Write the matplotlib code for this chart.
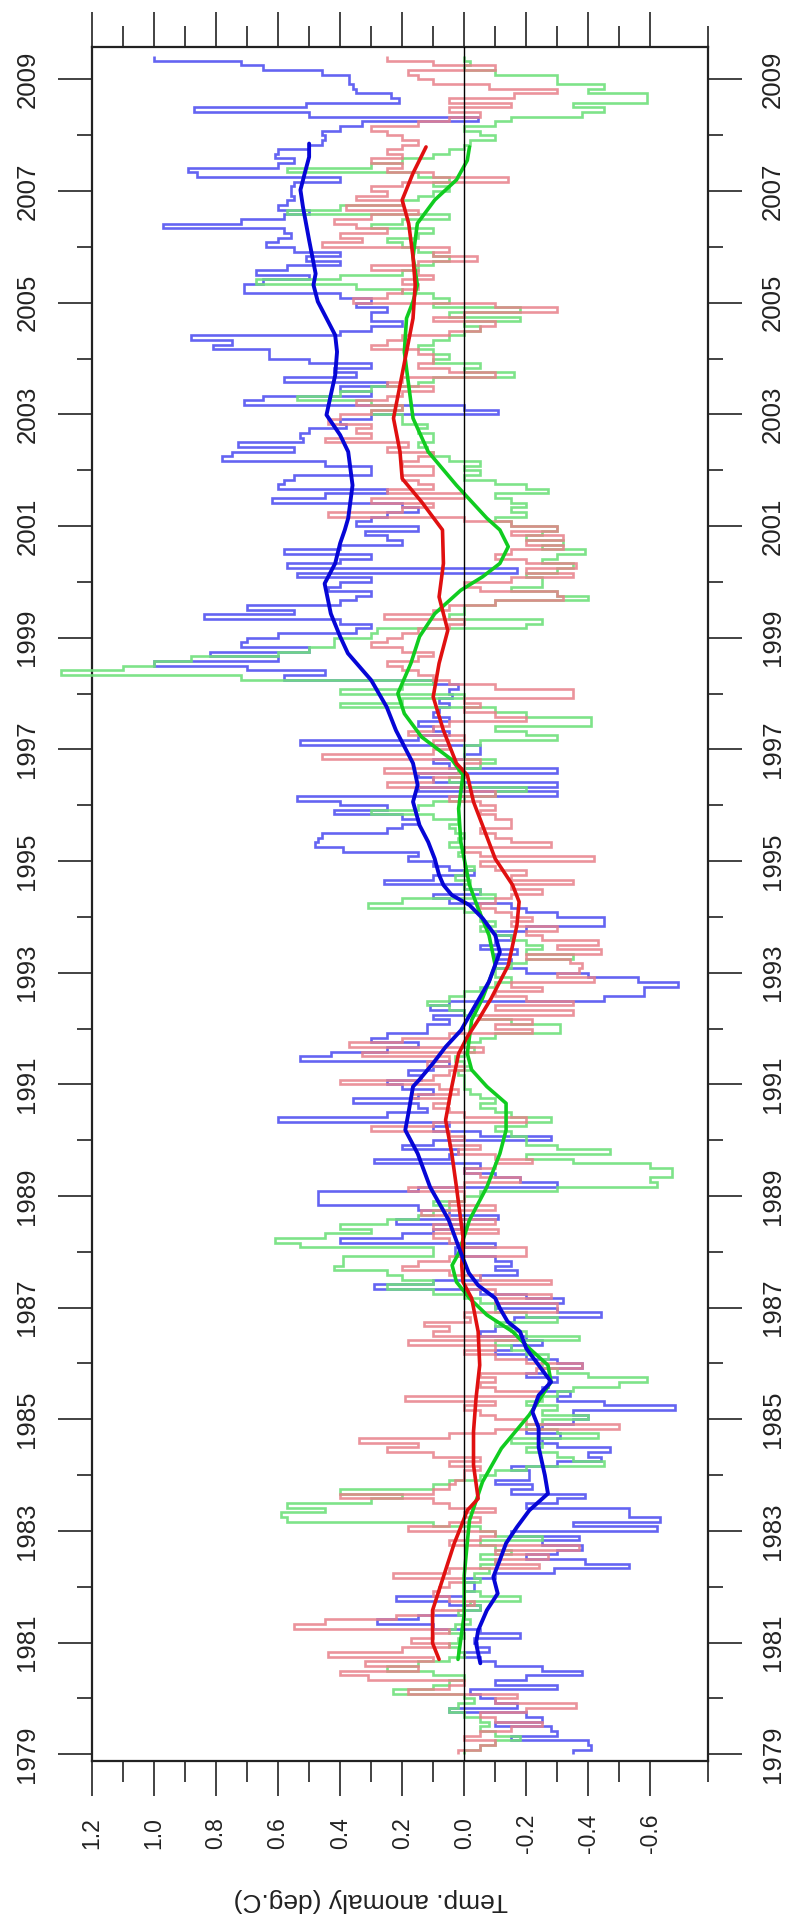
import numpy as np
import matplotlib
matplotlib.use("Agg")
import matplotlib.pyplot as plt
from matplotlib.ticker import FixedLocator
from matplotlib.transforms import blended_transform_factory

plt.rcParams['font.family'] = ['Liberation Sans', 'DejaVu Sans']
plt.rcParams['axes.unicode_minus'] = False

# ---------------- data ----------------
start_year = 1979  # monthly values from Jan 1979

blue_monthly = [
    -0.35, -0.41, -0.40, -0.15, -0.30, -0.28, -0.10, -0.25, -0.20, 0.05, -0.17, -0.10,   # 1979
    -0.05, -0.02, -0.30, -0.10, -0.20, -0.38, -0.25, -0.10, -0.05, 0.00, -0.08, -0.04,   # 1980
    -0.03, -0.18, -0.05, 0.10, 0.28, 0.15, 0.00, -0.05, 0.05, 0.22, 0.00, -0.03,         # 1981
    -0.03, 0.00, -0.10, -0.29, -0.53, -0.39, -0.20, -0.30, -0.38, -0.25, -0.37, -0.15,   # 1982
    -0.62, -0.35, -0.63, -0.53, -0.53, -0.20, -0.30, -0.39, -0.15, -0.22, -0.10, -0.21,  # 1983
    -0.21, -0.15, -0.30, -0.44, -0.40, -0.47, -0.30, -0.25, -0.31, -0.20, -0.25, -0.35,  # 1984
    -0.40, -0.35, -0.68, -0.45, -0.30, -0.34, -0.25, -0.27, -0.30, -0.20, -0.25, -0.38,  # 1985
    -0.30, -0.20, -0.10, -0.15, -0.25, -0.20, -0.05, -0.10, -0.15, -0.16, -0.44, -0.30,  # 1986
    -0.10, -0.32, -0.20, -0.05, 0.29, 0.10, -0.05, -0.17, -0.10, -0.15, -0.10, 0.03,     # 1987
    0.03, -0.10, 0.40, 0.20, 0.10, 0.00, 0.22, -0.11, 0.05, 0.15, 0.47, 0.47,            # 1988
    0.47, 0.15, -0.30, -0.18, -0.10, 0.00, -0.05, 0.29, 0.05, 0.02, 0.20, 0.10,          # 1989
    -0.28, -0.05, 0.10, 0.05, 0.60, 0.25, 0.12, 0.15, 0.36, 0.15, 0.10, 0.20,            # 1990
    0.25, 0.14, 0.18, 0.10, 0.05, 0.53, 0.43, 0.25, 0.15, 0.30, 0.25, 0.12,              # 1991
    0.12, 0.05, 0.10, 0.00, 0.11, 0.05, -0.45, -0.58, -0.58, -0.69, -0.56, -0.40,        # 1992
    -0.20, -0.10, -0.15, -0.10, -0.17, -0.05, -0.10, -0.15, -0.10, -0.20, -0.45, -0.45,  # 1993
    -0.30, -0.20, -0.15, 0.05, 0.10, -0.05, 0.00, 0.26, 0.10, -0.03, 0.05, 0.10,         # 1994
    0.18, 0.15, 0.39, 0.48, 0.47, 0.46, 0.25, 0.20, 0.15, 0.20, 0.42, 0.25,              # 1995
    0.40, 0.54, -0.30, 0.15, -0.30, 0.10, 0.15, -0.30, 0.05, 0.10, 0.00, -0.05,          # 1996
    -0.05, 0.53, 0.15, 0.05, 0.10, 0.15, 0.05, 0.10, 0.08, 0.05, 0.08, 0.04,             # 1997
    0.05, 0.02, 0.10, 0.58, 0.45, 0.70, 1.00, 0.60, 0.82, 0.50, 0.72, 0.70,              # 1998
    0.60, 0.35, 0.30, 0.40, 0.84, 0.55, 0.70, 0.40, 0.35, 0.30, 0.44, 0.40,              # 1999
    0.30, 0.54, -0.17, 0.57, 0.40, 0.30, 0.58, 0.40, 0.20, 0.25, 0.32, 0.15,             # 2000
    0.35, 0.30, 0.25, 0.15, 0.20, 0.62, 0.45, 0.25, 0.60, 0.58, 0.55, 0.30,              # 2001
    0.30, 0.45, 0.78, 0.75, 0.55, 0.73, 0.52, 0.53, 0.50, 0.38, 0.40, 0.30,              # 2002
    -0.11, 0.00, 0.71, 0.65, 0.30, 0.40, 0.25, 0.58, 0.35, 0.42, 0.30, 0.50,             # 2003
    0.63, 0.63, 0.81, 0.75, 0.88, 0.40, 0.30, 0.20, 0.30, 0.30, 0.25, 0.35,              # 2004
    0.30, 0.40, 0.71, 0.71, 0.65, 0.50, 0.67, 0.57, 0.40, 0.51, 0.40, 0.55,              # 2005
    0.64, 0.60, 0.56, 0.58, 0.97, 0.72, 0.58, 0.50, 0.60, 0.57, 0.55, 0.56,              # 2006
    0.56, 0.55, 0.40, 0.86, 0.89, 0.60, 0.55, 0.61, 0.60, 0.50, 0.46, 0.45,              # 2007
    0.46, 0.40, 0.33, -0.045, 0.50, 0.87, 0.51, 0.21, 0.235, 0.35, 0.36, 0.37,           # 2008
    0.37, 0.46, 0.65, 0.72, 1.00,                                                        # 2009
]

red_monthly = [
    0.02, -0.05, -0.10, 0.00, -0.05, -0.15, -0.25, -0.10, -0.05, -0.20, -0.36, -0.10,    # 1979
    -0.17, 0.18, 0.05, 0.00, 0.31, 0.40, 0.15, 0.32, 0.10, 0.44, 0.20, 0.05,             # 1980
    0.17, 0.10, 0.05, 0.55, 0.45, 0.22, 0.10, 0.00, -0.03, 0.05, 0.10, 0.08,             # 1981
    0.05, 0.00, 0.23, 0.05, -0.24, -0.10, -0.27, -0.10, -0.37, 0.05, -0.05, -0.10,       # 1982
    0.18, 0.05, -0.05, 0.00, -0.10, 0.05, 0.10, 0.40, 0.10, 0.05, 0.03, 0.00,            # 1983
    0.00, -0.05, 0.05, -0.05, 0.10, 0.25, 0.15, 0.34, 0.05, -0.10, -0.50, -0.20,         # 1984
    -0.10, -0.05, 0.00, -0.10, 0.19, -0.24, -0.10, -0.05, -0.10, -0.05, -0.23, -0.38,    # 1985
    -0.20, -0.10, 0.00, -0.10, 0.18, -0.17, 0.10, 0.05, 0.13, -0.02, 0.00, -0.30,        # 1986
    -0.30, -0.10, -0.28, -0.10, 0.00, -0.28, -0.05, 0.05, 0.20, 0.15, 0.05, -0.20,       # 1987
    -0.20, 0.00, 0.05, 0.10, -0.11, 0.10, -0.10, 0.05, 0.14, -0.10, 0.05, 0.00,          # 1988
    0.00, 0.18, 0.00, -0.18, -0.05, 0.00, -0.10, -0.22, -0.10, 0.02, -0.05, 0.05,        # 1989
    0.00, 0.05, 0.30, 0.10, -0.20, 0.00, 0.05, 0.10, 0.05, 0.17, 0.02, 0.08,             # 1990
    0.40, 0.10, 0.05, 0.00, 0.12, 0.05, 0.33, -0.06, 0.37, 0.20, 0.05, -0.22,            # 1991
    -0.10, -0.22, -0.05, -0.35, -0.10, -0.35, -0.20, -0.10, -0.25, -0.15, -0.42, -0.30,  # 1992
    -0.37, -0.38, -0.34, -0.20, -0.44, -0.30, -0.43, -0.25, -0.20, -0.30, -0.15, -0.22,  # 1993
    -0.15, -0.10, -0.05, -0.10, -0.15, -0.25, -0.15, -0.35, -0.15, -0.20, -0.10, -0.05,  # 1994
    -0.42, -0.05, 0.00, -0.28, -0.15, -0.10, -0.05, -0.15, -0.15, -0.10, -0.05, -0.10,   # 1995
    -0.05, 0.05, -0.10, 0.00, 0.25, 0.10, 0.00, 0.26, 0.00, -0.05, 0.46, 0.10,           # 1996
    0.05, 0.10, 0.00, 0.18, 0.10, 0.05, -0.20, -0.10, 0.00, -0.05, 0.00, -0.35,          # 1997
    -0.35, -0.10, 0.05, 0.10, 0.15, 0.20, 0.25, 0.15, 0.10, 0.20, 0.30, 0.25,            # 1998
    0.20, 0.15, 0.05, 0.00, 0.26, 0.10, 0.05, -0.10, -0.32, -0.30, -0.05, 0.00,          # 1999
    -0.15, -0.35, -0.20, -0.36, -0.20, -0.10, -0.15, -0.32, -0.20, -0.32, -0.15, -0.30,  # 2000
    -0.15, 0.00, 0.44, 0.20, 0.10, 0.30, 0.00, 0.25, 0.10, 0.15, 0.20, 0.10,             # 2001
    0.10, 0.20, 0.15, 0.10, 0.25, 0.18, 0.45, 0.30, 0.35, 0.30, 0.44, 0.40,              # 2002
    0.30, 0.20, 0.35, 0.25, 0.20, 0.10, 0.25, 0.20, -0.10, 0.05, 0.15, 0.10,             # 2003
    0.10, 0.15, 0.30, 0.25, 0.20, 0.05, -0.05, -0.10, 0.10, 0.00, -0.30, -0.10,          # 2004
    0.36, 0.25, 0.20, 0.15, 0.20, 0.10, 0.15, 0.30, 0.15, -0.04, 0.10, 0.05,             # 2005
    0.46, 0.33, 0.40, 0.25, 0.35, 0.42, 0.30, 0.15, 0.38, 0.20, 0.35, 0.25,              # 2006
    0.30, 0.20, -0.14, 0.10, 0.25, 0.20, 0.30, 0.20, 0.25, 0.20, 0.15, 0.20,             # 2007
    0.25, 0.30, 0.15, 0.05, -0.05, 0.05, -0.15, 0.05, -0.16, -0.30, -0.08, 0.10,         # 2008
    0.15, 0.18, -0.10, 0.10, 0.25,                                                       # 2009
]

green_monthly = [
    0.00, -0.05, -0.10, -0.18, -0.10, -0.05, -0.08, -0.05, 0.00, 0.05, 0.02, -0.03,      # 1979
    0.00, 0.23, 0.10, 0.05, 0.00, 0.10, 0.25, 0.15, 0.05, 0.00, 0.02, 0.05,              # 1980
    0.02, 0.00, 0.05, 0.03, -0.02, 0.00, 0.02, -0.05, -0.02, -0.18, -0.05, 0.00,         # 1981
    0.00, -0.05, -0.03, -0.08, -0.05, -0.10, -0.05, -0.15, -0.10, -0.05, -0.25, -0.10,   # 1982
    -0.05, 0.10, 0.57, 0.59, 0.45, 0.57, 0.30, 0.20, 0.40, 0.10, 0.05, -0.05,            # 1983
    -0.10, -0.20, -0.45, -0.35, -0.30, -0.20, -0.25, -0.15, -0.43, -0.30, -0.20, -0.25,  # 1984
    -0.40, -0.25, -0.30, -0.20, -0.25, -0.30, -0.35, -0.50, -0.59, -0.40, -0.30, -0.25,  # 1985
    -0.25, -0.27, -0.20, -0.15, -0.10, -0.37, -0.20, -0.15, -0.10, -0.30, -0.20, -0.10,  # 1986
    -0.10, -0.05, 0.00, 0.10, 0.25, 0.10, 0.20, 0.25, 0.42, 0.39, 0.39, 0.10,            # 1987
    0.10, 0.53, 0.61, 0.45, 0.30, 0.40, 0.25, 0.15, 0.10, 0.05, 0.10, 0.00,              # 1988
    -0.05, -0.30, -0.62, -0.60, -0.67, -0.67, -0.60, -0.35, -0.20, -0.47, -0.30, -0.20,  # 1989
    -0.20, -0.15, -0.10, -0.20, -0.28, -0.15, -0.10, -0.05, -0.10, -0.05, -0.02, 0.00,   # 1990
    0.00, 0.00, 0.02, -0.02, 0.00, 0.03, 0.00, -0.03, 0.00, -0.05, -0.10, -0.31,         # 1991
    -0.31, -0.15, -0.05, 0.00, 0.05, 0.12, 0.05, 0.00, -0.05, -0.10, -0.15, -0.10,       # 1992
    -0.10, -0.15, -0.20, -0.35, -0.20, -0.25, -0.20, -0.15, -0.10, -0.05, -0.10, -0.05,  # 1993
    -0.05, 0.00, 0.31, 0.20, -0.10, -0.05, 0.00, -0.02, 0.03, 0.00, -0.03, 0.00,         # 1994
    0.00, 0.02, 0.00, 0.05, 0.02, 0.00, 0.03, 0.05, 0.02, 0.10, 0.30, 0.15,              # 1995
    0.10, 0.00, -0.10, -0.20, 0.00, 0.05, 0.00, 0.02, -0.05, -0.10, 0.00, 0.00,          # 1996
    0.00, -0.05, -0.30, -0.20, -0.10, -0.41, -0.41, -0.20, -0.10, 0.40, 0.20, 0.00,      # 1997
    0.40, 0.20, 0.10, 0.72, 1.30, 1.10, 1.00, 0.88, 0.60, 0.50, 0.42, 0.42,              # 1998
    0.30, 0.28, -0.20, -0.25, 0.05, 0.00, 0.00, -0.10, -0.40, -0.30, -0.15, -0.25,       # 1999
    -0.25, -0.20, -0.30, -0.35, -0.25, -0.30, -0.39, -0.25, -0.32, -0.20, -0.25, -0.30,  # 2000
    -0.15, -0.10, -0.20, -0.15, -0.20, -0.15, -0.10, -0.27, -0.20, -0.10, 0.00, -0.05,   # 2001
    0.00, -0.05, 0.05, 0.10, 0.12, 0.15, 0.10, 0.10, 0.15, 0.12, 0.20, 0.20,             # 2002
    0.30, 0.20, 0.30, 0.54, 0.40, 0.30, 0.15, 0.10, -0.16, 0.00, -0.05, 0.10,            # 2003
    0.05, 0.10, 0.15, 0.10, 0.05, 0.00, -0.05, 0.00, -0.18, 0.05, -0.18, 0.10,           # 2004
    0.05, 0.10, 0.20, 0.35, 0.67, 0.40, 0.20, 0.15, 0.10, 0.05, 0.10, 0.15,              # 2005
    0.20, 0.25, 0.15, 0.10, 0.30, 0.20, 0.05, 0.57, 0.40, 0.20, 0.15, 0.10,              # 2006
    0.05, 0.10, 0.05, 0.15, 0.57, 0.30, 0.20, 0.10, 0.05, 0.00, -0.02, -0.10,            # 2007
    -0.05, 0.00, -0.10, -0.15, -0.38, -0.45, -0.35, -0.59, -0.59, -0.40, -0.45, -0.30,   # 2008
    -0.30, -0.10, 0.00, -0.02, 0.00,                                                     # 2009
]

# running-mean curves (year, anomaly)
blue_smooth_years = [1980.63, 1980.99, 1981.22, 1981.58, 1981.88, 1982.18, 1982.48, 1982.78, 1983.07, 1983.37,
                     1983.67, 1984.0, 1984.5, 1984.85, 1985.13, 1985.43, 1985.67, 1985.97, 1986.27, 1986.57,
                     1986.75, 1986.99, 1987.17, 1987.4, 1987.62, 1987.97, 1988.57, 1989.16, 1989.76, 1990.18,
                     1990.48, 1990.96, 1991.08, 1991.38, 1991.67, 1991.97, 1992.36, 1992.84, 1993.37, 1993.67,
                     1993.97, 1994.21, 1994.39, 1994.57, 1994.75, 1995.04, 1995.34, 1995.64, 1996.06, 1996.36,
                     1996.75, 1997.34, 1997.76, 1998.24, 1998.72, 1999.02, 1999.43, 1999.97, 2000.33, 2000.69,
                     2000.93, 2001.14, 2001.73, 2002.33, 2002.63, 2002.99, 2003.35, 2003.70, 2004.12, 2004.42,
                     2004.72, 2005.02, 2005.32, 2005.52, 2006.12, 2006.72, 2007.02, 2007.32, 2007.61, 2007.85]
blue_smooth = [-0.052, -0.038, -0.045, -0.073, -0.108, -0.094, -0.115, -0.135, -0.17, -0.21,
               -0.27, -0.26, -0.24, -0.24, -0.22, -0.24, -0.28, -0.24, -0.20, -0.18,
               -0.14, -0.115, -0.10, -0.045, -0.015, 0.01, 0.05, 0.11, 0.15, 0.19,
               0.18, 0.165, 0.145, 0.10, 0.06, 0.01, -0.03, -0.08, -0.115, -0.10,
               -0.06, -0.017, 0.04, 0.067, 0.081, 0.095, 0.116, 0.144, 0.165, 0.15,
               0.165, 0.22, 0.25, 0.30, 0.375, 0.40, 0.43, 0.45, 0.416, 0.40,
               0.385, 0.374, 0.36, 0.374, 0.40, 0.444, 0.43, 0.416, 0.41, 0.416,
               0.444, 0.472, 0.486, 0.479, 0.50, 0.52, 0.528, 0.514, 0.50, 0.50]

red_smooth_years = [1980.7, 1980.99, 1981.58, 1982.18, 1982.78, 1983.07, 1983.37, 1983.58, 1984.18, 1984.78,
                    1985.37, 1985.97, 1986.57, 1987.17, 1987.46, 1987.76, 1988.27, 1989.16, 1989.76, 1990.36,
                    1990.96, 1991.55, 1991.85, 1992.15, 1992.54, 1993.13, 1993.85, 1994.27, 1994.57, 1995.04,
                    1995.64, 1996.06, 1996.54, 1996.75, 1997.34, 1997.94, 1998.54, 1999.13, 1999.73, 2000.33,
                    2000.93, 2001.43, 2001.85, 2002.33, 2002.93, 2003.52, 2004.12, 2004.72, 2005.32, 2005.82,
                    2006.42, 2006.84, 2007.32, 2007.79]
red_smooth = [0.081, 0.102, 0.102, 0.067, 0.032, 0.011, -0.01, -0.045, -0.03, -0.03,
              -0.038, -0.05, -0.045, -0.024, 0.004, 0.008, 0.004, 0.025, 0.04, 0.06,
              0.04, 0.018, -0.01, -0.045, -0.087, -0.142, -0.17, -0.177, -0.156, -0.10,
              -0.059, -0.03, -0.01, 0.025, 0.067, 0.10, 0.081, 0.053, 0.081, 0.067,
              0.07, 0.137, 0.20, 0.207, 0.228, 0.207, 0.186, 0.165, 0.158, 0.165,
              0.179, 0.20, 0.165, 0.123]

green_smooth_years = [1980.7, 1981.5, 1982.2, 1982.8, 1983.19, 1983.88, 1984.48, 1985.08, 1985.67, 1985.97,
                      1986.27, 1986.57, 1986.87, 1987.17, 1987.46, 1987.76, 1987.97, 1988.57, 1989.16, 1989.76,
                      1990.18, 1990.66, 1990.96, 1991.26, 1991.55, 1992.15, 1992.54, 1993.13, 1993.67, 1994.15,
                      1994.57, 1995.34, 1995.94, 1996.54, 1996.81, 1997.22, 1997.64, 1998.0, 1998.54, 1999.02,
                      1999.43, 1999.85, 2000.09, 2000.33, 2000.63, 2000.93, 2001.14, 2001.73, 2002.33, 2002.93,
                      2003.52, 2004.12, 2004.72, 2005.02, 2005.32, 2005.82, 2006.42, 2006.84, 2007.20, 2007.55,
                      2007.79]
green_smooth = [0.02, 0.0, 0.0, -0.01, -0.017, -0.059, -0.12, -0.21, -0.28, -0.27,
                -0.21, -0.156, -0.073, -0.017, 0.025, 0.039, 0.018, -0.017, -0.073, -0.115,
                -0.135, -0.135, -0.073, -0.024, -0.01, -0.024, -0.059, -0.10, -0.08, -0.045,
                -0.017, 0.011, 0.018, 0.004, 0.039, 0.137, 0.193, 0.214, 0.172, 0.144,
                0.095, 0.011, -0.059, -0.115, -0.142, -0.115, -0.073, 0.025, 0.116, 0.165,
                0.179, 0.193, 0.186, 0.165, 0.151, 0.165, 0.151, 0.095, 0.025, -0.01,
                -0.017]

anomaly_ticks = [1.2, 1.0, 0.8, 0.6, 0.4, 0.2, 0.0, -0.2, -0.4, -0.6]
anomaly_minor = [1.1, 0.9, 0.7, 0.5, 0.3, 0.1, -0.1, -0.3, -0.5]
year_ticks = list(range(1979, 2010, 2))
year_minor = list(range(1980, 2010, 2))

# ---------------- figure ----------------
W, H = 788, 1923
fig = plt.figure(figsize=(W / 100, H / 100), dpi=100)
fig.patch.set_facecolor('white')
ax = fig.add_axes([92 / W, 1 - 1761 / H, (708 - 92) / W, (1761 - 47) / H])
ax.set_xlim(1.2, -0.786)
ax.set_ylim(1978.88, 2009.58)


def month_edges(vals):
    return start_year + np.arange(len(vals) + 1) / 12.0


step_style = dict(orientation='horizontal', baseline=None, lw=1.9, clip_on=False)
ax.stairs(blue_monthly, month_edges(blue_monthly), color='#5c5cf2', alpha=0.95, zorder=2, **step_style)
ax.stairs(green_monthly, month_edges(green_monthly), color='#70e07c', alpha=0.9, zorder=3, **step_style)
ax.stairs(red_monthly, month_edges(red_monthly), color='#e8808a', alpha=0.85, zorder=4, **step_style)

ax.plot(green_smooth, green_smooth_years, color='#10cc20', lw=2.6, zorder=5, solid_capstyle='round')
ax.plot(red_smooth, red_smooth_years, color='#e01010', lw=2.6, zorder=6, solid_capstyle='round')
ax.plot(blue_smooth, blue_smooth_years, color='#0606d6', lw=2.8, zorder=7, solid_capstyle='round')

ax.axvline(0.0, color='black', lw=1.0, zorder=8)

# ---------------- axes styling ----------------
for sp in ax.spines.values():
    sp.set_linewidth(1.6)
    sp.set_color('#222222')

ax.xaxis.set_major_locator(FixedLocator(anomaly_ticks))
ax.xaxis.set_minor_locator(FixedLocator(anomaly_minor + [-0.786]))
ax.set_xticklabels([f"{v:.1f}" for v in anomaly_ticks])
ax.yaxis.set_major_locator(FixedLocator(year_ticks))
ax.yaxis.set_minor_locator(FixedLocator(year_minor))
ax.set_yticklabels([str(y) for y in year_ticks])

ax.tick_params(axis='x', which='major', direction='out', length=25, width=1.2, color='#222222',
               top=True, bottom=True, labeltop=False, labelbottom=True,
               labelsize=16.5, labelrotation=90, pad=27, labelcolor='#222222')
ax.tick_params(axis='x', which='minor', direction='out', length=15, width=1.2, color='#222222',
               top=True, bottom=True)
ax.tick_params(axis='y', which='major', direction='out', length=24.5, width=1.2, color='#222222',
               left=True, right=True, labelleft=True, labelright=True,
               labelsize=18.5, labelrotation=90, pad=22, labelcolor='#222222')
ax.tick_params(axis='y', which='minor', direction='out', length=11, width=1.2, color='#222222',
               left=True, right=True)

for lab in ax.get_xticklabels():
    lab.set_va('center')
for t in ax.yaxis.get_major_ticks():
    t.label1.set_ha('center')
    t.label1.set_va('center')
    t.label2.set_ha('center')
    t.label2.set_va('center')

trans = blended_transform_factory(ax.transData, fig.transFigure)
ax.text(0.3, 23 / H, "Temp. anomaly (deg.C)", transform=trans, rotation=180,
        ha='center', va='center', fontsize=19, color='#222222')

fig.savefig("out.png", dpi=100, facecolor='white')
